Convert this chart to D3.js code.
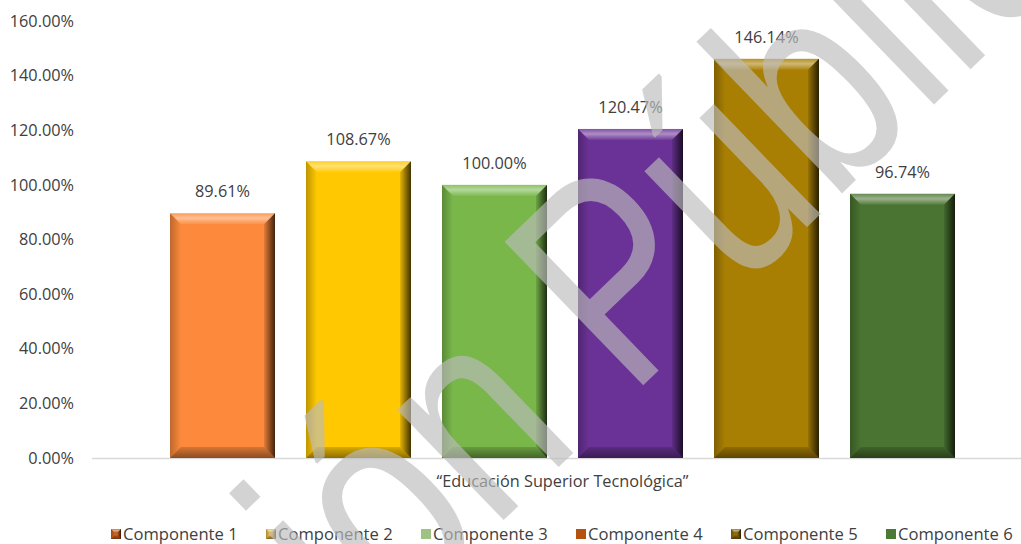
<!DOCTYPE html>
<html>
<head>
<meta charset="utf-8">
<script src="https://cdn.jsdelivr.net/npm/d3@7"></script>
<style>
  body { margin: 0; background: #fff; }
  svg text { font-family: "Open Sans", "Noto Sans", sans-serif; fill: #404040; }
</style>
</head>
<body>
<div id="chart"></div>
<script>
// data
const category = "“Educación Superior Tecnológica”";
const series = ["Componente 1", "Componente 2", "Componente 3", "Componente 4", "Componente 5", "Componente 6"];
const values = [89.61, 108.67, 100.00, 120.47, 146.14, 96.74];
const barColors = ["#fd8a3c", "#ffc800", "#79b74a", "#6a3296", "#a87e03", "#4a7431"];
const legendColors = ["#c9611f", "#e6b94a", "#9dc283", "#b4520f", "#8e6b0c", "#4b7a35"];
const legendBevel = [true, true, false, false, true, false];
const yTicks = [0, 20, 40, 60, 80, 100, 120, 140, 160];

const width = 1021, height = 544;
const margin = { top: 21, right: -12, bottom: 86, left: 92 };

const svg = d3.select("#chart").append("svg")
  .attr("width", width).attr("height", height);

const defs = svg.append("defs");

const y = d3.scaleLinear().domain([0, 160])
  .range([height - margin.bottom, margin.top]);

const x0 = d3.scaleBand().domain([category])
  .range([margin.left, width - margin.right])
  .paddingOuter(0.0766);

const x1 = d3.scaleBand().domain(series)
  .range([x0(category), x0(category) + x0.bandwidth()])
  .paddingInner(0.228).paddingOuter(0.114);

// y labels
svg.append("g").selectAll("text")
  .data(yTicks).join("text")
  .attr("x", 74)
  .attr("y", d => y(d))
  .attr("dy", "0.35em")
  .attr("text-anchor", "end")
  .style("font-size", "16.3px")
  .text(d => d.toFixed(2) + "%");

// baseline
svg.append("line")
  .attr("x1", margin.left).attr("x2", width)
  .attr("y1", y(0) + 0.5).attr("y2", y(0) + 0.5)
  .attr("stroke", "#d9d9d9").attr("stroke-width", 1.5);

// gradient helpers
function grad(id, x1g, y1g, x2g, y2g, stops) {
  const g = defs.append("linearGradient").attr("id", id)
    .attr("x1", x1g).attr("y1", y1g).attr("x2", x2g).attr("y2", y2g);
  stops.forEach(s => g.append("stop").attr("offset", s[0])
    .attr("stop-color", s[1]).attr("stop-opacity", s[2]));
}
grad("gTop", 0, 0, 0, 1, [[0, "#fff", 0.15], [0.45, "#fff", 0.45], [1, "#fff", 0.05]]);
grad("gLeft", 0, 0, 1, 0, [[0, "#000", 0.25], [1, "#000", 0.0]]);
grad("gRight", 0, 0, 1, 0, [[0, "#000", 0.1], [1, "#000", 0.75]]);
grad("gBottom", 0, 0, 0, 1, [[0, "#000", 0.15], [1, "#000", 0.45]]);

function bevel(g, x, yy, w, h, b, color) {
  g.append("rect").attr("x", x).attr("y", yy).attr("width", w).attr("height", h)
    .attr("fill", color);
  const pts = (arr) => arr.map(p => p.join(",")).join(" ");
  g.append("polygon").attr("points", pts([[x, yy], [x + w, yy], [x + w - b, yy + b], [x + b, yy + b]]))
    .attr("fill", "url(#gTop)");
  g.append("polygon").attr("points", pts([[x, yy], [x + b, yy + b], [x + b, yy + h - b], [x, yy + h]]))
    .attr("fill", "url(#gLeft)");
  g.append("polygon").attr("points", pts([[x + w, yy], [x + w, yy + h], [x + w - b, yy + h - b], [x + w - b, yy + b]]))
    .attr("fill", "url(#gRight)");
  g.append("polygon").attr("points", pts([[x, yy + h], [x + b, yy + h - b], [x + w - b, yy + h - b], [x + w, yy + h]]))
    .attr("fill", "url(#gBottom)");
}

// bars
const bars = svg.append("g");
series.forEach((s, i) => {
  const bx = x1(s), by = y(values[i]);
  bevel(bars.append("g"), bx, by, x1.bandwidth(), y(0) - by, 11, barColors[i]);
});

// data labels
svg.append("g").selectAll("text")
  .data(series).join("text")
  .attr("x", d => x1(d) + x1.bandwidth() / 2)
  .attr("y", (d, i) => y(values[i]) - 16)
  .attr("text-anchor", "middle")
  .style("font-size", "16.3px")
  .text((d, i) => values[i].toFixed(2) + "%");

// category label
svg.append("text")
  .attr("x", x0(category) + x0.bandwidth() / 2)
  .attr("y", 487)
  .attr("text-anchor", "middle")
  .style("font-size", "16.3px")
  .text(category);

// legend
const legend = svg.append("g");
series.forEach((s, i) => {
  const lx = 111 + i * 155, ly = 534;
  const g = legend.append("g");
  if (legendBevel[i]) {
    bevel(g, lx, ly - 5, 10, 10, 3.5, legendColors[i]);
  } else {
    g.append("rect").attr("x", lx).attr("y", ly - 5).attr("width", 10).attr("height", 10)
      .attr("fill", legendColors[i]);
  }
  g.append("text").attr("x", lx + 12).attr("y", ly).attr("dy", "0.35em")
    .style("font-size", "16.6px").text(s);
});

// watermark
svg.append("text")
  .attr("transform", "translate(364,655) rotate(-44) scale(0.79,1)")
  .style("font-family", "Liberation Sans")
  .style("font-size", "290px")
  .style("fill", "rgb(188,188,188)")
  .style("fill-opacity", 0.65)
  .text("ión Pública");
</script>
</body>
</html>
